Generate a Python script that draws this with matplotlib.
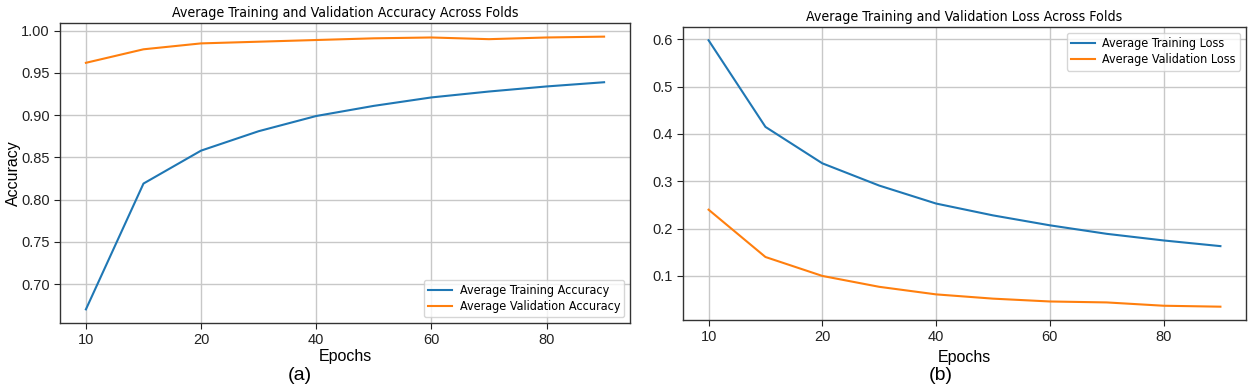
import matplotlib
matplotlib.use("Agg")
import matplotlib.pyplot as plt
import numpy as np

# Data
epoch_points = list(range(10))
tick_positions = [0, 2, 4, 6, 8]
tick_labels = ["10", "20", "40", "60", "80"]

train_acc = [0.670, 0.819, 0.858, 0.881, 0.899, 0.911, 0.921, 0.928, 0.934, 0.939]
val_acc = [0.962, 0.978, 0.985, 0.987, 0.989, 0.991, 0.992, 0.990, 0.992, 0.993]

train_loss = [0.598, 0.415, 0.338, 0.291, 0.253, 0.228, 0.207, 0.189, 0.175, 0.163]
val_loss = [0.240, 0.140, 0.100, 0.077, 0.061, 0.052, 0.046, 0.044, 0.037, 0.035]

W, H = 1255, 391
fig = plt.figure(figsize=(W / 100, H / 100), dpi=100)

leg_kw = dict(prop=dict(family="DejaVu Sans", size=9, stretch="condensed"),
              fancybox=True, framealpha=0.8, borderaxespad=0.45,
              labelspacing=0.25, borderpad=0.35, handletextpad=0.6, handlelength=1.9)

def setup(ax, title):
    ax.set_title(title, fontsize=10.2, fontfamily="DejaVu Sans", fontstretch="condensed", pad=4.5)
    ax.grid(True, color="#c8c8c8", linewidth=1.0)
    ax.set_axisbelow(True)
    ax.set_xticks(tick_positions)
    ax.set_xticklabels(tick_labels)
    for lab in ax.get_xticklabels() + ax.get_yticklabels():
        lab.set_fontfamily("Liberation Sans")
        lab.set_fontsize(10.5)
    for s in ax.spines.values():
        s.set_color("#333333")
        s.set_linewidth(1.0)
    ax.tick_params(colors="#222222", length=4)

ax1 = fig.add_axes([60 / W, (H - 323) / H, 570 / W, 300 / H])
ax1.plot(epoch_points, train_acc, color="#1f77b4", lw=1.5, label="Average Training Accuracy")
ax1.plot(epoch_points, val_acc, color="#ff7f0e", lw=1.5, label="Average Validation Accuracy")
ax1.set_yticks([0.70, 0.75, 0.80, 0.85, 0.90, 0.95, 1.00])
ax1.set_yticklabels(["0.70", "0.75", "0.80", "0.85", "0.90", "0.95", "1.00"])
setup(ax1, "Average Training and Validation Accuracy Across Folds")
ax1.set_xlabel("Epochs", fontfamily="Liberation Sans", fontsize=11.5, labelpad=1)
ax1.set_ylabel("Accuracy", fontfamily="Liberation Sans", fontsize=11.5, labelpad=0)
ax1.legend(loc="lower right", **leg_kw)

ax2 = fig.add_axes([683 / W, (H - 320) / H, 563 / W, 293 / H])
ax2.plot(epoch_points, train_loss, color="#1f77b4", lw=1.5, label="Average Training Loss")
ax2.plot(epoch_points, val_loss, color="#ff7f0e", lw=1.5, label="Average Validation Loss")
ax2.set_yticks([0.1, 0.2, 0.3, 0.4, 0.5, 0.6])
ax2.set_yticklabels(["0.1", "0.2", "0.3", "0.4", "0.5", "0.6"])
setup(ax2, "Average Training and Validation Loss Across Folds")
ax2.set_xlabel("Epochs", fontfamily="Liberation Sans", fontsize=11.5, labelpad=4)
ax2.legend(loc="upper right", **leg_kw)

fig.text(300 / W, 1 - 376 / H, "(a)", fontfamily="Liberation Sans", fontsize=14, ha="center", va="center")
fig.text(941 / W, 1 - 375 / H, "(b)", fontfamily="Liberation Sans", fontsize=14, ha="center", va="center")

fig.savefig("out.png", dpi=100)
